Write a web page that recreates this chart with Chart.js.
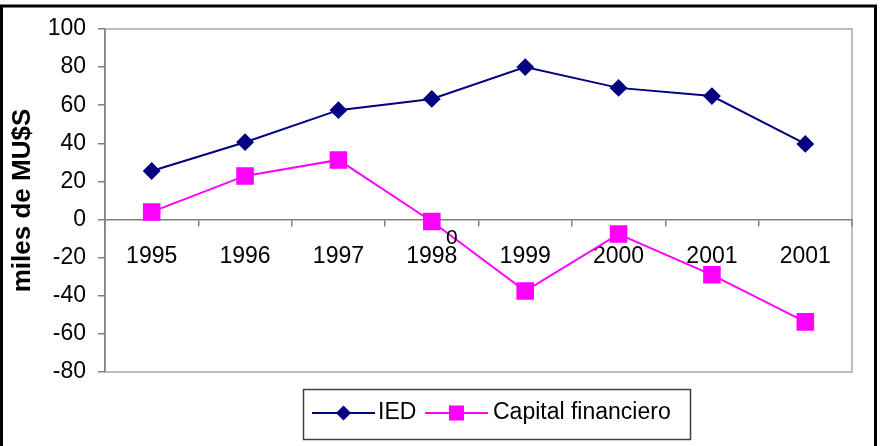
<!DOCTYPE html>
<html>
<head>
<meta charset="utf-8">
<script src="https://cdn.jsdelivr.net/npm/chart.js@4/dist/chart.umd.min.js"></script>
<style>
	html, body { margin: 0; padding: 0; background: #fff; }
	#wrap { width: 880px; height: 446px; }
</style>
</head>
<body>
<div id="wrap"><canvas id="chart1"></canvas></div>
<script>
	const years = ["1995", "1996", "1997", "1998", "1999", "2000", "2001", "2001"];
	const ied = [25.5, 40.6, 57.4, 63.3, 80.0, 69.1, 64.8, 39.7];
	const capital = [4.0, 22.9, 31.3, -1.0, -37.5, -7.6, -29.0, -53.7];
	const yMin = -80;
	const yMax = 100;
	const yStep = 20;

	const FONT = "'Liberation Sans', Arial, sans-serif";

	// marco exterior, borde del area de trazado, leyenda y el "0" suelto
	const frame = {
		id: "frame",
		beforeDraw(chart) {
			const ctx = chart.ctx;
			const a = chart.chartArea;
			ctx.save();
			ctx.strokeStyle = "#000";
			ctx.lineWidth = 3;
			ctx.strokeRect(1.5, 6, 874, 450);
			ctx.strokeStyle = "#a6a6a6";
			ctx.lineWidth = 1.5;
			ctx.strokeRect(a.left, a.top, a.right - a.left, a.bottom - a.top);
			ctx.restore();
		},
		afterDraw(chart) {
			const ctx = chart.ctx;
			const x = chart.scales.x;
			const y = chart.scales.y;
			ctx.save();
			ctx.fillStyle = "#000";
			ctx.font = "21px " + FONT;
			ctx.textAlign = "center";
			ctx.textBaseline = "middle";
			ctx.fillText("0", x.getPixelForValue(3) + 20, y.getPixelForValue(0) + 19);

			// leyenda
			ctx.strokeStyle = "#404040";
			ctx.lineWidth = 1.5;
			ctx.strokeRect(303.5, 389.5, 387, 50);
			const cy = 413;
			const items = [
				{ x0: 312, x1: 375, tx: 378 },
				{ x0: 425, x1: 488, tx: 493 },
			];
			chart.data.datasets.forEach((ds, i) => {
				const it = items[i];
				ctx.strokeStyle = ds.borderColor;
				ctx.lineWidth = 2;
				ctx.beginPath();
				ctx.moveTo(it.x0, cy);
				ctx.lineTo(it.x1, cy);
				ctx.stroke();
				const mx = (it.x0 + it.x1) / 2;
				ctx.fillStyle = ds.pointBackgroundColor;
				ctx.beginPath();
				if (ds.pointStyle === "rectRot") {
					const r = 7.5;
					ctx.moveTo(mx, cy - r);
					ctx.lineTo(mx + r, cy);
					ctx.lineTo(mx, cy + r);
					ctx.lineTo(mx - r, cy);
				} else {
					const s = 7.5;
					ctx.rect(mx - s, cy - s, 2 * s, 2 * s);
				}
				ctx.closePath();
				ctx.fill();
				ctx.fillStyle = "#000";
				ctx.font = "23px " + FONT;
				ctx.textAlign = "left";
				ctx.fillText(ds.label, it.tx, cy);
			});
			ctx.restore();
		},
	};

	new Chart(document.getElementById("chart1"), {
		type: "line",
		data: {
			labels: years,
			datasets: [
				{
					label: "IED",
					data: ied,
					borderColor: "#000080",
					backgroundColor: "#000080",
					pointBackgroundColor: "#000080",
					pointBorderColor: "#000080",
					pointStyle: "rectRot",
					pointRadius: 7.5,
					borderWidth: 2,
					tension: 0,
				},
				{
					label: "Capital financiero",
					data: capital,
					borderColor: "#ff00ff",
					backgroundColor: "#ff00ff",
					pointBackgroundColor: "#ff00ff",
					pointBorderColor: "#ff00ff",
					pointStyle: "rect",
					pointRadius: 11,
					borderWidth: 2,
					tension: 0,
				},
			],
		},
		plugins: [frame],
		options: {
			responsive: true,
			maintainAspectRatio: false,
			animation: false,
			layout: {
				padding: { left: 3, top: 29, right: 28, bottom: 74 },
			},
			plugins: {
				legend: { display: false },
				tooltip: { enabled: false },
			},
			scales: {
				x: {
					type: "category",
					position: { y: 0 },
					offset: true,
					grid: {
						offset: true,
						drawOnChartArea: false,
						tickLength: 6,
						color: "#808080",
						lineWidth: 1.5,
					},
					border: { color: "#808080", width: 1.5 },
					ticks: {
						color: "#000",
						padding: 17,
						maxRotation: 0,
						autoSkip: false,
						font: { family: FONT, size: 23 },
					},
				},
				y: {
					min: yMin,
					max: yMax,
					afterFit(scale) {
						scale.width = 102;
					},
					grid: {
						drawOnChartArea: false,
						tickLength: 7,
						color: "#808080",
						lineWidth: 1.5,
					},
					border: { color: "#808080", width: 1.5 },
					ticks: {
						stepSize: yStep,
						color: "#000",
						padding: 12,
						font: { family: FONT, size: 23 },
					},
					title: {
						display: true,
						text: "miles de MU$S",
						color: "#000",
						padding: { top: 4, bottom: 0 },
						font: { family: FONT, size: 26, weight: "bold" },
					},
				},
			},
		},
	});
</script>
</body>
</html>
